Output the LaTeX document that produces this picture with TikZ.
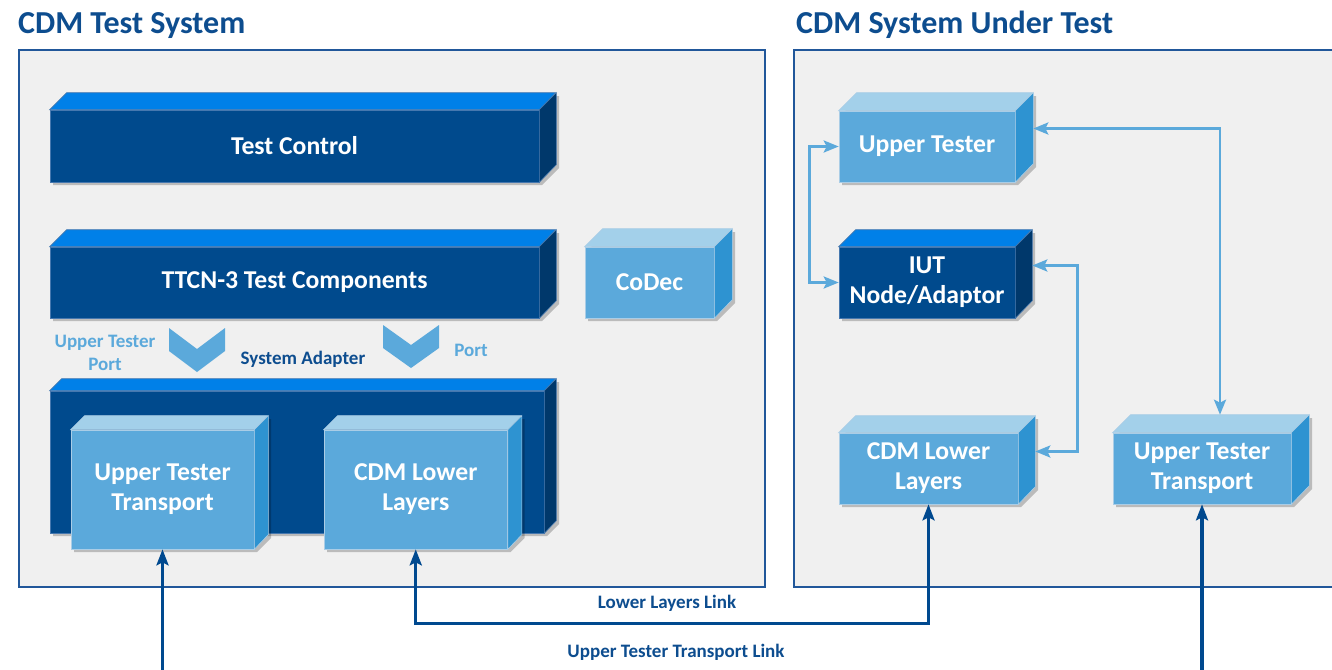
\documentclass[tikz,border=0pt]{standalone}
\usepackage{fontspec}
\setmainfont{Carlito}
\usetikzlibrary{arrows.meta,calc}
\definecolor{navy}{RGB}{0,74,141}
\definecolor{navytop}{RGB}{0,128,232}
\definecolor{navyside}{RGB}{0,56,107}
\definecolor{navyedge}{RGB}{70,120,175}
\definecolor{sky}{RGB}{91,169,219}
\definecolor{skytop}{RGB}{163,208,234}
\definecolor{skyside}{RGB}{46,147,209}
\definecolor{skyedge}{RGB}{170,205,230}
\definecolor{panelgray}{RGB}{240,240,240}
\definecolor{panelblue}{RGB}{33,87,154}
\definecolor{titleblue}{RGB}{13,77,143}
\definecolor{linkblue}{RGB}{0,73,143}
\tikzset{
  panel/.style={fill=panelgray, draw=panelblue, line width=2pt},
  boxfont/.style={font=\fontsize{25.7}{30}\selectfont\bfseries, text=white, align=center},
  darkfront/.style={boxfont, fill=navy, draw=navyedge, line width=0.6pt, inner sep=0pt},
  darktop/.style={fill=navytop, draw=navyedge, line width=0.6pt},
  darkside/.style={fill=navyside, draw=navyedge, line width=0.6pt},
  lightfront/.style={boxfont, fill=sky, draw=skyedge, line width=0.6pt, inner sep=0pt},
  lighttop/.style={fill=skytop, draw=skyedge, line width=0.6pt},
  lightside/.style={fill=skyside, draw=skyedge, line width=0.6pt},
  titletext/.style={font=\fontsize{32}{36}\selectfont\bfseries, text=titleblue, anchor=base west, inner sep=0pt},
  smalllight/.style={font=\fontsize{19}{23}\selectfont\bfseries, text=sky, align=center, inner sep=0pt},
  smalldark/.style={font=\fontsize{19}{23}\selectfont\bfseries, text=titleblue, align=center, inner sep=0pt},
  chevron/.style={fill=sky},
  lightlink/.style={draw=sky, line width=2.8pt, {Stealth[length=15pt,width=12pt,inset=3pt]}-{Stealth[length=15pt,width=12pt,inset=3pt]}},
  darklink/.style={draw=linkblue, line width=3.2pt, {Stealth[length=16pt,width=12pt,inset=3pt]}-{Stealth[length=16pt,width=12pt,inset=3pt]}},
}
% #1 name, #2 x, #3 y (centre of front face), #4 width, #5 height, #6 depth, #7 scheme, #8 text
\newcommand\cuboid[8]{%
  \fill[black,opacity=0.22] ({#2-#4/2+3},{#3-#5/2+3}) -- ++(#6,-#6) -- ++(#4,0) -- ++(0,#5)
     -- ({#2+#4/2+3},{#3+#5/2+3}) -- ({#2-#4/2+3},{#3+#5/2+3}) -- cycle;
  \node[#7front, minimum width=#4pt, minimum height=#5pt] (#1) at (#2,#3) {#8};
  \filldraw[#7top] (#1.north west) -- ++(#6,-#6) -- ++(#4,0) -- (#1.north east) -- cycle;
  \filldraw[#7side] (#1.north east) -- ++(#6,-#6) -- ++(0,#5) -- (#1.south east) -- cycle;
}
\begin{document}
\begin{tikzpicture}[x=1pt,y=-1pt]
\clip (0,0) rectangle (1332,669);
\fill[white] (0,0) rectangle (1332,669);

% panels
\draw[panel] (19,50) rectangle (765,587);
\draw[panel] (794,50) rectangle (1345,587);
\node[titletext] (t1) at (18,34) {CDM Test System};
\node[titletext] (t2) at (796,34) {CDM System Under Test};

% left system
\cuboid{TC}{294.5}{146}{489}{72}{17}{dark}{Test Control}
\cuboid{TTCN}{294.5}{282.5}{489}{71}{17}{dark}{TTCN-3 Test Components}
\cuboid{CoDec}{649.5}{282.5}{129}{71}{18}{light}{CoDec}
\cuboid{SA}{297}{462}{494}{142}{12}{dark}{}
\cuboid{UTT}{162.5}{489.5}{183}{119}{14}{light}{Upper Tester\\Transport}
\cuboid{CLL}{415.75}{489.5}{183.5}{119}{14}{light}{CDM Lower\\Layers}

% chevrons
\fill[chevron] (169,328) -- (197,349) -- (225,328) -- (225,351) -- (197,372) -- (169,351) -- cycle;
\fill[chevron] (383,325) -- (411,345) -- (439,325) -- (439,348) -- (411,368) -- (383,348) -- cycle;
\node[smalllight] (utport) at (105,353) {Upper Tester\\Port};
\node[smalldark] (salabel) at (303,359) {System Adapter};
\node[smalllight] (port) at (471,350) {Port};

% right system
\cuboid{UT}{927}{146.5}{176}{71}{18}{light}{Upper Tester}
\cuboid{IUT}{927}{282.5}{176}{71}{17}{dark}{IUT\\Node/Adaptor}
\cuboid{RCLL}{928.5}{468.5}{179}{71}{17}{light}{CDM Lower\\Layers}
\cuboid{RUTT}{1202}{468.5}{178}{71}{18}{light}{Upper Tester\\Transport}

% light links
\coordinate (UTs) at ($(UT.east)+(18,-18)$);
\coordinate (IUTs) at ($(IUT.east)+(17,-17)$);
\coordinate (RCLLs) at ($(RCLL.east)+(17,-17)$);
\coordinate (RUTTt) at ($(RUTT.north)+(18,-18)$);
\draw[lightlink] (UT.west) -- ++(-29,0) |- (IUT.west);
\draw[lightlink] (UTs) -| (RUTTt);
\draw[lightlink] (IUTs) -- ++(45,0) |- (RCLLs);

% dark links
\draw[darklink] (CLL.south) -- ++(0,74) -| (RCLL.south);
\draw[darklink] (UTT.south) -- ++(0,140) -| (RUTT.south);
\node[smalldark] (lll) at (667,603) {Lower Layers Link};
\node[smalldark] (utl) at (676,652) {Upper Tester Transport Link};
\end{tikzpicture}
\end{document}
